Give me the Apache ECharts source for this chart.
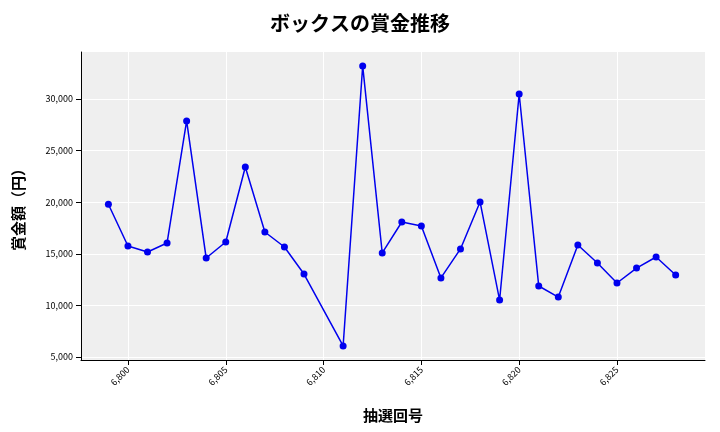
<!DOCTYPE html>
<html>
<head>
<meta charset="utf-8">
<script src="https://cdn.jsdelivr.net/npm/echarts@6/dist/echarts.min.js"></script>
<style>html,body{margin:0;padding:0;background:#fff}#main{width:720px;height:432px}</style>
</head>
<body>
<div id="main"></div>
<script>
// 抽選回号
var draws=[6799,6800,6801,6802,6803,6804,6805,6806,6807,6808,6809,6811,6812,6813,6814,6815,6816,6817,6818,6819,6820,6821,6822,6823,6824,6825,6826,6827,6828];
// 賞金額
var prizes=[19800,15760,15170,16050,27870,14590,16140,23410,17110,15660,13040,6070,33200,15080,18080,17690,12660,15470,20020,10520,30480,11880,10810,15850,14110,12170,13620,14690,12950];
// 目盛り
var xTicks=[6800,6805,6810,6815,6820,6825];
var yTicks=[5000,10000,15000,20000,25000,30000];

var pts=[];
for(var i=0;i<draws.length;i++){ pts.push([draws[i],prizes[i]]); }

var font='"Noto Sans CJK JP", sans-serif';
var myChart=echarts.init(document.getElementById('main'));
myChart.setOption({
	animation:false,
	title:{text:'ボックスの賞金推移',left:'center',top:8,textStyle:{fontFamily:font,fontSize:20,fontWeight:'bold',color:'#000'}},
	grid:{left:81,right:15,top:52,bottom:72,backgroundColor:'#efefef',show:true,borderWidth:0},
	xAxis:{
		type:'value',min:6797.6,max:6829.5,
		name:'抽選回号',nameLocation:'middle',nameGap:48,
		nameTextStyle:{fontFamily:font,fontSize:15,fontWeight:'bold',color:'#000'},
		axisLine:{show:true,lineStyle:{color:'#000'}},
		axisTick:{show:true,customValues:xTicks,lineStyle:{color:'#000'}},
		axisLabel:{rotate:45,fontSize:9,color:'#000',fontFamily:font,customValues:xTicks},
		splitLine:{show:true,lineStyle:{color:'#fff',width:1}}
	},
	yAxis:{
		type:'value',min:4710,max:34550,
		name:'賞金額（円）',nameLocation:'middle',nameGap:55,
		nameTextStyle:{fontFamily:font,fontSize:15,fontWeight:'bold',color:'#000'},
		axisLine:{show:true,lineStyle:{color:'#000'}},
		axisTick:{show:true,customValues:yTicks,lineStyle:{color:'#000'}},
		axisLabel:{fontSize:9,color:'#000',fontFamily:font,customValues:yTicks,
			formatter:function(v){return v.toLocaleString('en-US');}},
		splitLine:{show:true,lineStyle:{color:'#fff',width:1}}
	},
	series:[{
		type:'line',data:pts,symbol:'circle',symbolSize:7,
		lineStyle:{color:'#0000ee',width:1.5},
		itemStyle:{color:'#0000ee'}
	}]
});
</script>
</body>
</html>
